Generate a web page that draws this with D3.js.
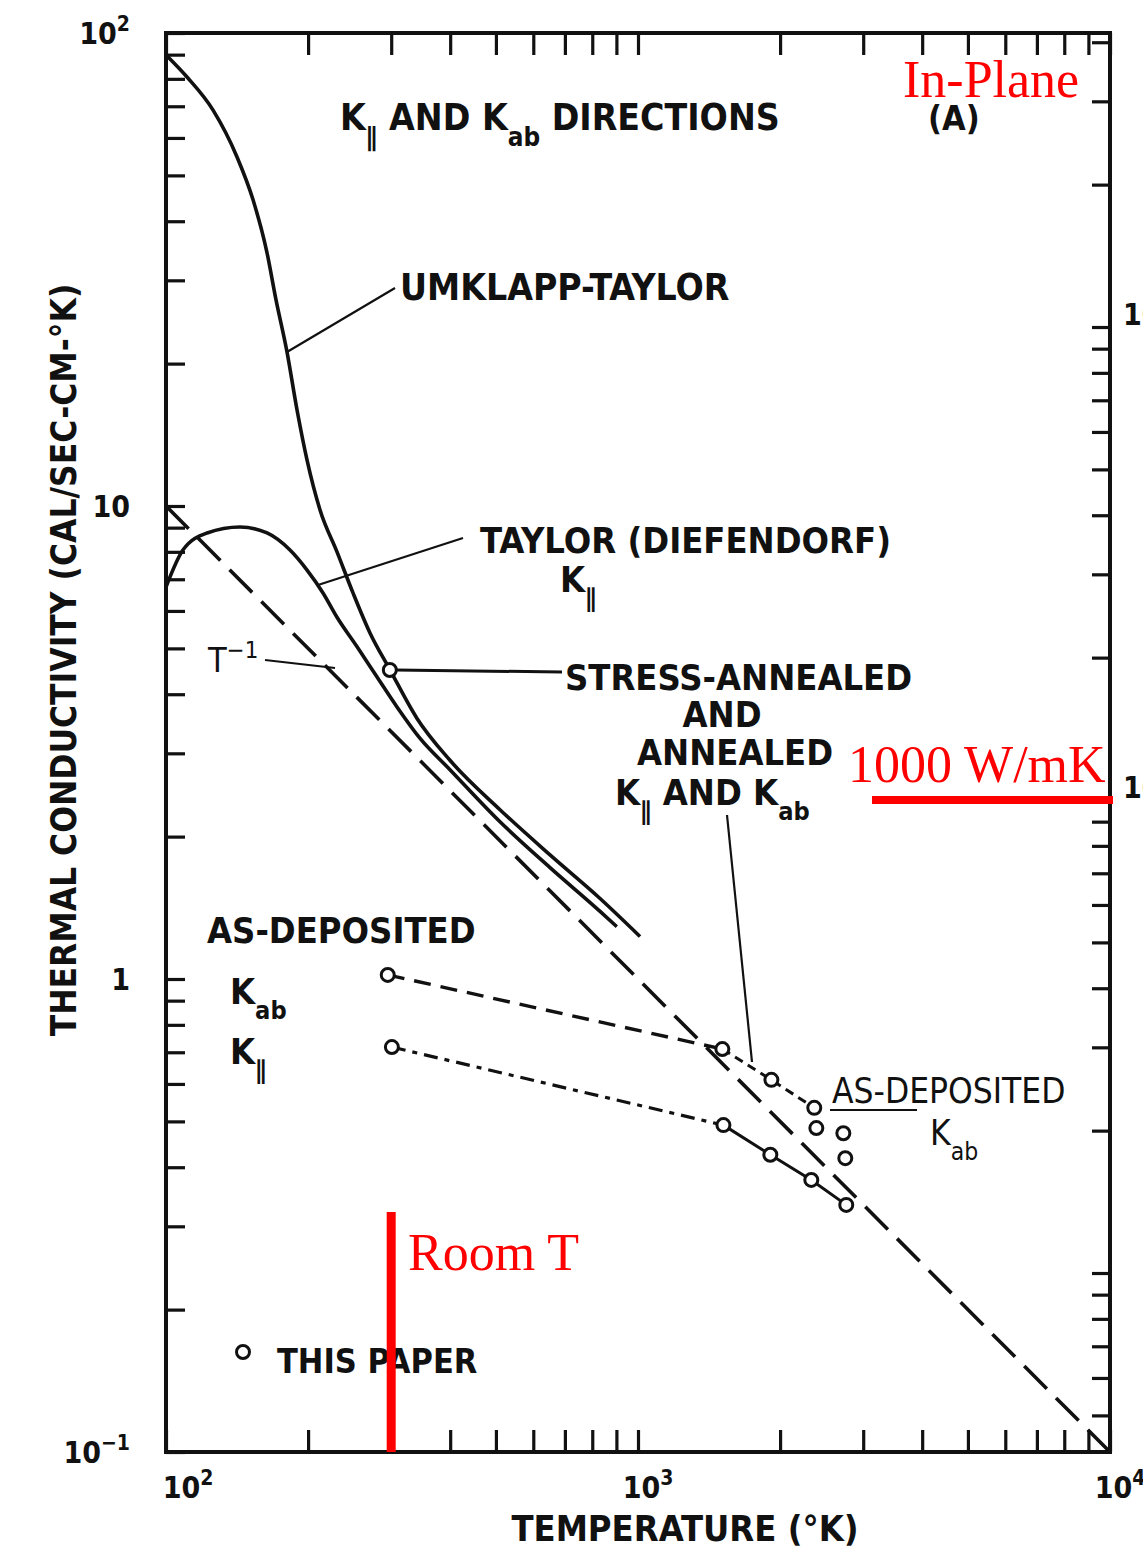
<!DOCTYPE html>
<html>
<head>
<meta charset="utf-8">
<script src="https://cdn.jsdelivr.net/npm/d3@7/dist/d3.min.js"></script>
<style>
  body { margin: 0; background: #fff; }
  text { font-family: "DejaVu Sans Condensed", "DejaVu Sans", sans-serif; fill: #111; }
  .red { font-family: "Liberation Serif", "DejaVu Serif", serif; fill: #ff0000; font-weight: 400; }
</style>
</head>
<body>
<svg id="chart" width="1143" height="1547"></svg>
<script>
// Temperature in K, conductivity in cal/sec-cm-K
const umklappT = [100.5, 110.8, 125.8, 141.4, 152.9, 163.7, 171, 180.4, 189.5, 199, 212, 230.3, 249, 270.5, 298.4, 340, 399.6, 510, 651, 831, 1010];
const umklappK = [89.4, 80.7, 68.7, 54.7, 44.4, 34.3, 27.3, 21.2, 15.96, 12.5, 9.81, 8.0, 6.55, 5.39, 4.5, 3.56, 2.9, 2.28, 1.83, 1.48, 1.23];

const taylorT = [100, 108.6, 122.2, 143.5, 163.7, 183.1, 199, 215.1, 230.3, 254, 280, 308.6, 345, 399.6, 510, 651, 831, 902];
const taylorK = [6.74, 8.07, 8.77, 9.03, 8.77, 8.07, 7.32, 6.55, 5.82, 5.04, 4.35, 3.76, 3.23, 2.77, 2.15, 1.72, 1.39, 1.29];

const inverseT = [100, 10000];
const inverseK = [10, 0.1];

// This paper: measured points
const stressT = [298];
const stressK = [4.5];
const kabDepT = [295, 1509];
const kabDepK = [1.02, 0.711];
const annealedT = [1509, 1917, 2363];
const annealedK = [0.711, 0.612, 0.534];
const kabHighT = [2387, 2723, 2749];
const kabHighK = [0.484, 0.472, 0.418];
const kparDepT = [301, 1517];
const kparDepK = [0.718, 0.491];
const kparHighT = [1517, 1907, 2329, 2762];
const kparHighK = [0.491, 0.425, 0.376, 0.333];

// Axis tick labels
const xLabelVals = [100, 1000, 10000];
const xLabelExp = ["2", "3", "4"];
const yLabelVals = [0.1, 1, 10, 100];
const yLabelBase = ["10", "1", "10", "10"];
const yLabelExp = ["\u22121", "", "", "2"];
const rightLabelVals = [10, 100];
const rightLabelText = ["10", "100"];

// Reference marks
const roomT = 300;
const inPlaneWmK = 1000;
const calToWcm = 4.184;

const svg = d3.select("#chart");
const plotL = 166, plotR = 1110, plotT = 33, plotB = 1452;

const x = d3.scaleLog().domain([100, 10000]).range([plotL, plotR]);
const y = d3.scaleLog().domain([0.1, 100]).range([plotB, plotT]);
const yW = d3.scaleLog().domain([0.1 * calToWcm, 100 * calToWcm]).range([plotB, plotT]);

function minorTicks(lo, hi) {
  const out = [];
  for (let e = -3; e <= 5; e++) {
    for (let m = 1; m <= 9; m++) {
      const v = m * Math.pow(10, e);
      if (v >= lo * 0.999 && v <= hi * 1.001) out.push(+v.toPrecision(6));
    }
  }
  return out;
}

const tickStyle = g => {
  g.select(".domain").remove();
  g.selectAll(".tick line").attr("stroke", "#111").attr("stroke-width", 3.2);
  g.selectAll(".tick text").remove();
};

// inward ticks on all four sides
svg.append("g").attr("transform", `translate(${plotL},0)`)
  .call(d3.axisLeft(y).tickValues(minorTicks(0.1, 100)).tickSize(-19)).call(tickStyle);
svg.append("g").attr("transform", `translate(${plotR},0)`)
  .call(d3.axisRight(yW).tickValues(minorTicks(0.1 * calToWcm, 100 * calToWcm)).tickSize(-18)).call(tickStyle);
svg.append("g").attr("transform", `translate(0,${plotB})`)
  .call(d3.axisBottom(x).tickValues(minorTicks(100, 10000)).tickSize(-22)).call(tickStyle);
svg.append("g").attr("transform", `translate(0,${plotT})`)
  .call(d3.axisTop(x).tickValues(minorTicks(100, 10000)).tickSize(-22)).call(tickStyle);

// frame
svg.append("rect").attr("x", plotL).attr("y", plotT)
  .attr("width", plotR - plotL).attr("height", plotB - plotT)
  .attr("fill", "none").attr("stroke", "#111").attr("stroke-width", 4);

// text with sub/superscript pieces
function rich(xp, yp, parts, fs, opts = {}) {
  const t = svg.append("text").attr("x", xp).attr("y", yp)
    .attr("font-size", fs).attr("font-weight", opts.weight || 700)
    .attr("text-anchor", opts.anchor || "start");
  let shift = 0;
  parts.forEach(p => {
    const [s, kind] = Array.isArray(p) ? p : [p, ""];
    const target = kind === "sub" ? 0.42 * fs : kind === "sup" ? -0.42 * fs : 0;
    t.append("tspan").attr("dy", target - shift)
      .attr("font-size", kind ? fs * 0.7 : fs).text(s);
    shift = target;
  });
  return t;
}

// tick labels
yLabelVals.forEach((v, i) => {
  const parts = [yLabelBase[i]];
  if (yLabelExp[i]) parts.push([yLabelExp[i], "sup"]);
  rich(130, y(v) + 11, parts, 30, { anchor: "end", weight: 600 });
});
xLabelVals.forEach((v, i) => {
  rich(x(v) + (i === 0 ? 22 : 10), plotB + 46, ["10", [xLabelExp[i], "sup"]], 30, { anchor: "middle", weight: 600 });
});
rightLabelVals.forEach((v, i) => {
  rich(plotR + 13, yW(v) - 2, [rightLabelText[i]], 30, { weight: 600 });
});

// axis titles
rich(685, 1541, ["TEMPERATURE (\u00B0K)"], 36, { anchor: "middle", weight: 600 });
svg.append("text").attr("transform", "translate(76,660) rotate(-90)")
  .attr("text-anchor", "middle").attr("font-size", 35).attr("font-weight", 600)
  .text("THERMAL CONDUCTIVITY (CAL/SEC-CM-\u00B0K)");

const pts = (a, b) => d3.zip(a, b);
const smooth = d3.line().x(d => x(d[0])).y(d => y(d[1])).curve(d3.curveMonotoneX);
const straight = d3.line().x(d => x(d[0])).y(d => y(d[1]));

// literature curves
svg.append("path").attr("d", smooth(pts(umklappT, umklappK)))
  .attr("fill", "none").attr("stroke", "#111").attr("stroke-width", 3.6);
svg.append("path").attr("d", smooth(pts(taylorT, taylorK)))
  .attr("fill", "none").attr("stroke", "#111").attr("stroke-width", 3.6);
svg.append("path").attr("d", straight(pts(inverseT, inverseK)))
  .attr("fill", "none").attr("stroke", "#111").attr("stroke-width", 3.6)
  .attr("stroke-dasharray", "32,13");

// connecting lines through the measured points
svg.append("path").attr("d", straight(pts(kabDepT, kabDepK)))
  .attr("fill", "none").attr("stroke", "#111").attr("stroke-width", 3.4)
  .attr("stroke-dasharray", "17,10");
svg.append("path").attr("d", straight(pts(kparDepT, kparDepK)))
  .attr("fill", "none").attr("stroke", "#111").attr("stroke-width", 3.2)
  .attr("stroke-dasharray", "14,7,5,7");
svg.append("path").attr("d", straight(pts(annealedT, annealedK)))
  .attr("fill", "none").attr("stroke", "#111").attr("stroke-width", 3)
  .attr("stroke-dasharray", "9,6");
svg.append("path").attr("d", straight(pts(kparHighT, kparHighK)))
  .attr("fill", "none").attr("stroke", "#111").attr("stroke-width", 3);

// leader lines
const leader = (x1, y1, x2, y2, w = 2.2) => svg.append("line")
  .attr("x1", x1).attr("y1", y1).attr("x2", x2).attr("y2", y2)
  .attr("stroke", "#111").attr("stroke-width", w);
leader(287, 352, 395, 288);
leader(318, 585, 463, 538);
leader(265, 660, 335, 668, 1.8);
leader(x(stressT[0]) + 6, y(stressK[0]), 562, 672, 3);
leader(727, 815, 752, 1062);
leader(830, 1110, 917, 1110);

// measured points
const circles = [].concat(
  pts(stressT, stressK), pts(kabDepT, kabDepK), pts(annealedT.slice(1), annealedK.slice(1)),
  pts(kabHighT, kabHighK), pts(kparDepT, kparDepK), pts(kparHighT.slice(1), kparHighK.slice(1))
);
svg.selectAll("circle.pt").data(circles).join("circle").attr("class", "pt")
  .attr("cx", d => x(d[0])).attr("cy", d => y(d[1])).attr("r", 6.5)
  .attr("fill", "#fff").attr("stroke", "#111").attr("stroke-width", 3);

// annotations
rich(340, 130, ["K", ["\u2225", "sub"], " AND K", ["ab", "sub"], " DIRECTIONS"], 37);
rich(928, 130, ["(A)"], 34);
rich(400, 300, ["UMKLAPP-TAYLOR"], 37);
rich(480, 553, ["TAYLOR (DIEFENDORF)"], 36);
rich(560, 592, ["K", ["\u2225", "sub"]], 36);
rich(208, 672, ["T", ["\u22121", "sup"]], 34, { weight: 500 });
rich(565, 690, ["STRESS-ANNEALED"], 36);
rich(722, 727, ["AND"], 36, { anchor: "middle" });
rich(637, 765, ["ANNEALED"], 36);
rich(615, 805, ["K", ["\u2225", "sub"], " AND K", ["ab", "sub"]], 36);
rich(207, 943, ["AS-DEPOSITED"], 36);
rich(230, 1004, ["K", ["ab", "sub"]], 36);
rich(230, 1064, ["K", ["\u2225", "sub"]], 36);
rich(832, 1103, ["AS-DEPOSITED"], 35, { weight: 500 });
rich(930, 1145, ["K", ["ab", "sub"]], 35, { weight: 500 });

// legend
svg.append("circle").attr("cx", 243).attr("cy", 1352).attr("r", 6.5)
  .attr("fill", "#fff").attr("stroke", "#111").attr("stroke-width", 3);
rich(277, 1373, ["THIS PAPER"], 34);

// red reference marks
svg.append("text").attr("class", "red").attr("x", 903).attr("y", 97)
  .attr("font-size", 52).text("In-Plane");
const yRef = y(inPlaneWmK / 100 / calToWcm);
svg.append("line").attr("x1", 872).attr("x2", plotR + 3).attr("y1", yRef).attr("y2", yRef)
  .attr("stroke", "#ff0000").attr("stroke-width", 8);
svg.append("text").attr("class", "red").attr("x", 848).attr("y", yRef - 18)
  .attr("font-size", 52).text("1000 W/mK");
svg.append("line").attr("x1", x(roomT)).attr("x2", x(roomT)).attr("y1", 1212).attr("y2", plotB)
  .attr("stroke", "#ff0000").attr("stroke-width", 9);
svg.append("text").attr("class", "red").attr("x", 408).attr("y", 1270)
  .attr("font-size", 52).text("Room T");
</script>
</body>
</html>
